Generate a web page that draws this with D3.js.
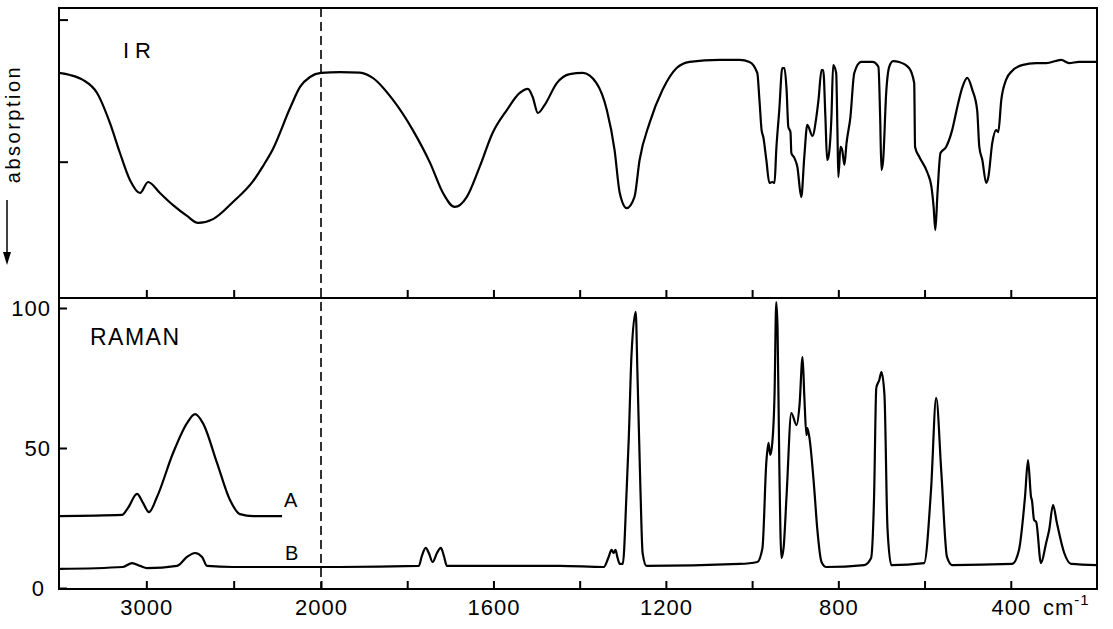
<!DOCTYPE html>
<html>
<head>
<meta charset="utf-8">
<script src="https://cdn.jsdelivr.net/npm/d3@7"></script>
<style>
  html, body { margin: 0; background: #fff; }
  svg { display: block; font-family: "Liberation Sans", Arial, sans-serif; }
</style>
</head>
<body>
<div id="chart"></div>
<script>
// [wavenumber cm-1, value]
// IR: relative transmission (0 = bottom of panel, 100 = top)
const irSpectrum = [
  [3500,77.6],[3437,76.9],[3363,75.2],[3282,70.7],[3208,60.3],[3151,50.0],[3094,40.7],[3036,36.2],
  [2990,40.0],[2922,36.2],[2847,32.0],[2767,28.3],[2704,25.9],[2618,27.2],[2504,33.1],[2389,40.3],
  [2332,45.5],[2275,51.4],[2177,65.5],[2120,72.8],[2063,76.2],[2000,77.6],
  [1956,77.9],[1910,77.7],[1880,75.9],[1833,68.3],[1787,57.9],[1747,46.6],[1717,36.2],[1690,31.4],
  [1662,34.8],[1632,45.2],[1602,56.9],[1569,64.8],[1539,70.7],[1520,72.1],[1509,69.3],[1497,63.8],
  [1481,66.6],[1453,74.1],[1423,77.2],[1393,77.6],[1361,74.1],[1337,64.8],[1319,51.0],[1307,36.2],
  [1291,31.0],[1273,34.8],[1261,47.6],[1238,60.3],[1208,71.7],[1175,79.3],[1145,81.4],[1076,82.1],
  [1029,82.1],[1006,81.4],[988,77.6],[983,68.3],[978,57.9],[974,55.5],[967,47.6],[960,39.7],
  [953,40.0],[948,39.7],[944,51.0],[937,64.8],[930,79.3],[925,79.3],[920,71.7],[916,59.0],
  [911,57.2],[909,50.0],[902,48.3],[895,45.2],[886,34.8],[879,48.6],[872,59.7],[860,55.9],
  [851,62.4],[846,68.3],[839,78.6],[835,78.6],[830,62.4],[826,47.6],[823,48.6],[816,62.4],
  [812,80.3],[805,77.6],[802,56.9],[800,41.7],[795,52.1],[791,51.0],[786,45.9],[781,53.4],
  [772,62.4],[763,77.6],[747,81.4],[721,81.4],[707,79.7],[703,62.4],[700,44.1],[696,47.6],
  [689,70.7],[682,79.7],[673,81.7],[659,81.4],[636,79.3],[624,74.1],[622,52.1],[612,48.6],
  [593,43.1],[584,38.3],[579,31.4],[575,23.4],[570,36.2],[563,50.0],[550,52.1],[536,57.9],
  [524,65.9],[512,72.8],[501,75.9],[489,71.7],[478,64.8],[473,52.1],[466,47.6],[457,39.7],
  [452,41.7],[443,53.4],[434,57.9],[429,57.2],[422,68.3],[411,75.2],[397,78.3],[374,80.3],
  [341,81.0],[318,81.0],[283,82.1],[265,81.0],[242,81.4],[200,81.4]
];

// Raman intensity (0-100)
const ramanA = [
  [3500,25.7],[3139,26.1],[3105,28.6],[3053,33.6],[3019,30.4],[2985,27.1],[2939,32.5],[2847,48.2],
  [2767,58.9],[2721,62.1],[2676,58.9],[2595,44.6],[2521,31.4],[2464,26.4],[2389,25.7],[2223,25.7]
];

const ramanB = [
  [3500,6.8],[3134,7.5],[3082,8.9],[3036,7.9],[2996,7.1],[2824,7.9],[2767,11.1],[2721,12.5],
  [2681,11.1],[2653,7.9],[2504,7.5],[2000,7.5],[1956,7.5],[1773,7.9],[1766,11.5],[1757,14.3],
  [1750,12.5],[1741,9.3],[1731,12.5],[1722,14.3],[1715,11.5],[1708,7.9],[1446,7.9],[1344,7.5],
  [1333,11],[1326,13.6],[1321,12.5],[1317,13.6],[1312,10.7],[1307,8.6],[1300,8.6],[1291,35],
  [1286,53.9],[1280,82.5],[1270,98.6],[1266,76.8],[1259,35],[1254,12.5],[1245,7.9],[1029,8.6],
  [988,9.3],[976,14.3],[967,45],[962,51.8],[958,47.5],[953,52.1],[948,68.9],[944,102.1],
  [941,92.9],[937,45],[932,10.7],[927,14.3],[920,33.2],[909,62.5],[897,58.2],[890,65.4],
  [883,82.5],[879,68.9],[874,54.6],[872,57.1],[867,53.6],[856,35.7],[849,21.4],[839,9.3],
  [828,7.5],[740,8.2],[724,10.7],[717,33.2],[712,71.4],[705,74.3],[700,77.1],[693,68.9],
  [686,21.4],[677,8.2],[601,8.9],[585,35],[573,67.9],[561,41.1],[548,11.1],[536,8.2],
  [397,8.6],[381,13.6],[367,32.5],[360,45.7],[353,32.5],[351,31.4],[346,24.3],[341,23.6],
  [330,8.9],[318,16.1],[311,20.7],[302,29.6],[293,23.2],[276,12.5],[260,8.6],[200,8.2]
];

const xTicks = [3000, 2500, 2000, 1800, 1600, 1400, 1200, 1000, 800, 600, 400];
const xLabels = [3000, 2000, 1600, 1200, 800, 400];
const ramanTicks = [0, 50, 100];
const irTicks = [47, 96];
const breakAt = 2000;

const width = 1113, height = 629;
const frame = { left: 59, right: 1097, top: 8, mid: 298, bottom: 589 };

const svg = d3.select('#chart').append('svg')
  .attr('width', width)
  .attr('height', height);

// broken wavenumber axis: 3500-2000 compressed, 2000-200 expanded
const x = d3.scaleLinear()
  .domain([3500, breakAt, 200])
  .range([frame.left, 321, frame.right]);

const yIR = d3.scaleLinear().domain([0, 100]).range([frame.mid, frame.top]);
const yRaman = d3.scaleLinear().domain([0, 100]).range([588, 308]);

const lineIR = d3.line()
  .x(d => x(d[0]))
  .y(d => yIR(d[1]))
  .curve(d3.curveMonotoneX);

const lineRaman = d3.line()
  .x(d => x(d[0]))
  .y(d => yRaman(d[1]))
  .curve(d3.curveMonotoneX);

// frame and divider
svg.append('rect')
  .attr('x', frame.left).attr('y', frame.top)
  .attr('width', frame.right - frame.left).attr('height', frame.bottom - frame.top)
  .attr('fill', 'none').attr('stroke', '#000').attr('stroke-width', 2);

svg.append('line')
  .attr('x1', frame.left).attr('x2', frame.right)
  .attr('y1', frame.mid).attr('y2', frame.mid)
  .attr('stroke', '#000').attr('stroke-width', 2);

// dashed break line
svg.append('line')
  .attr('x1', x(breakAt)).attr('x2', x(breakAt))
  .attr('y1', frame.top).attr('y2', frame.bottom)
  .attr('stroke', '#000').attr('stroke-width', 1.6)
  .attr('stroke-dasharray', '9,5');

function styleAxis(g) {
  g.select('.domain').remove();
  g.attr('font-family', null).attr('font-size', null);
  g.selectAll('line').attr('stroke', '#000').attr('stroke-width', 2);
  g.selectAll('text').attr('fill', '#000').style('font-size', '22px').style('letter-spacing', '1px');
}

// bottom axis
svg.append('g')
  .attr('transform', `translate(0,${frame.bottom})`)
  .call(d3.axisBottom(x)
    .tickValues(xTicks)
    .tickSizeInner(-8)
    .tickSizeOuter(0)
    .tickPadding(10)
    .tickFormat(d => xLabels.includes(d) ? d : ''))
  .call(styleAxis);

// ticks on the divider
svg.append('g')
  .attr('transform', `translate(0,${frame.mid})`)
  .call(d3.axisBottom(x)
    .tickValues(xTicks.filter(d => d !== breakAt))
    .tickSizeInner(-8)
    .tickSizeOuter(0)
    .tickFormat(''))
  .call(styleAxis);

// Raman y axis
svg.append('g')
  .attr('transform', `translate(${frame.left},0)`)
  .call(d3.axisLeft(yRaman)
    .tickValues(ramanTicks)
    .tickSizeInner(-8)
    .tickSizeOuter(0)
    .tickPadding(8))
  .call(styleAxis)
  .call(g => g.selectAll('.tick').filter(d => d === 0).select('text').attr('x', -14));

// IR y axis (unlabelled)
svg.append('g')
  .attr('transform', `translate(${frame.left},0)`)
  .call(d3.axisLeft(yIR)
    .tickValues(irTicks)
    .tickSizeInner(-9)
    .tickSizeOuter(0)
    .tickFormat(''))
  .call(styleAxis);

// unit label
const unit = svg.append('text')
  .attr('x', 1043).attr('y', 615)
  .style('font-size', '22px')
  .style('letter-spacing', '1px');
unit.append('tspan').text('cm');
unit.append('tspan').attr('dy', -10).style('font-size', '15px').text('-1');

// spectra
[[irSpectrum, lineIR], [ramanA, lineRaman], [ramanB, lineRaman]].forEach(([data, line]) => {
  svg.append('path')
    .datum(data)
    .attr('fill', 'none').attr('stroke', '#000').attr('stroke-width', 2.2)
    .attr('stroke-linejoin', 'round')
    .attr('d', line);
});

// panel labels
svg.append('text').attr('x', 123).attr('y', 58)
  .style('font-size', '22px').style('letter-spacing', '6px').text('IR');
svg.append('text').attr('x', 90).attr('y', 345)
  .style('font-size', '23px').style('letter-spacing', '1.5px').text('RAMAN');
svg.append('text').attr('x', 284).attr('y', 507)
  .style('font-size', '20px').text('A');
svg.append('text').attr('x', 285).attr('y', 560)
  .style('font-size', '20px').text('B');

// y label with arrow
svg.append('text')
  .attr('transform', 'translate(20,124) rotate(-90)')
  .attr('text-anchor', 'middle')
  .style('font-size', '20px')
  .style('letter-spacing', '2.5px')
  .text('absorption');

svg.append('line')
  .attr('x1', 7).attr('x2', 7).attr('y1', 200).attr('y2', 258)
  .attr('stroke', '#000').attr('stroke-width', 1.5);
svg.append('path')
  .attr('d', 'M3,252L11,252L7,265Z')
  .attr('fill', '#000');
</script>
</body>
</html>
